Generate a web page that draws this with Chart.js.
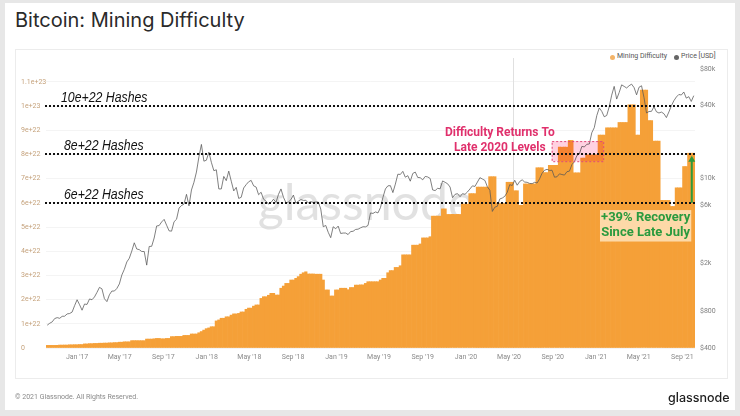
<!DOCTYPE html>
<html><head><meta charset="utf-8">
<script src="https://cdn.jsdelivr.net/npm/chart.js@4.4.0/dist/chart.umd.min.js"></script>
<style>
html,body{margin:0;padding:0;}
body{width:740px;height:416px;background:#e7e7e7;position:relative;overflow:hidden;font-family:Inter,Roboto,sans-serif;}
#card{position:absolute;left:5px;top:3px;width:730px;height:407px;background:#fff;}
#panel{position:absolute;left:15px;top:49px;width:711px;height:328px;border:1px solid #ececec;background:#fff;}
#title{position:absolute;left:15px;top:8px;font-size:20px;color:#2a2a2a;white-space:nowrap;}
.lg{position:absolute;top:52px;font-size:7px;color:#555;white-space:nowrap;font-family:Roboto,sans-serif;}
.dot{position:absolute;top:55px;width:5px;height:5px;border-radius:50%;}
#footer{position:absolute;left:15px;top:393px;font-size:7px;color:#8a8a8a;white-space:nowrap;font-family:Roboto,sans-serif;}
#logo{position:absolute;left:668px;top:390px;font-size:12.5px;font-weight:500;color:#1e1e1e;white-space:nowrap;}
canvas{position:absolute;left:0;top:0;}
</style></head>
<body>
<div id="card"></div>
<div id="panel"></div>
<div id="title">Bitcoin: Mining Difficulty</div>
<div class="dot" style="left:610px;background:#f4b468"></div>
<div class="lg" style="left:617px">Mining Difficulty</div>
<div class="dot" style="left:674px;background:#666"></div>
<div class="lg" style="left:681px">Price [USD]</div>
<canvas id="c" width="740" height="416"></canvas>
<div id="footer">© 2021 Glassnode. All Rights Reserved.</div>
<div id="logo">glassnode</div>
<script>
// ---------- DATA (weekly, starting Sunday 2016-10-09) ----------
const firstWeek = '2016-10-09';
// Mining difficulty in units of 1e22 hashes
const difficulty2016 = [0.109,0.109,0.109,0.109,0.110,0.121,0.121,0.123,0.123,0.133,0.133,0.137];
const difficulty2017 = [0.137,0.144,0.144,0.169,0.169,0.181,0.181,0.189,0.189,0.198,0.198,0.204,0.204,
  0.214,0.214,0.224,0.224,0.240,0.240,0.256,0.256,0.256,0.305,0.305,0.305,0.304,0.304,0.304,0.369,0.369,0.369,
  0.381,0.396,0.396,0.381,0.381,0.396,0.396,0.471,0.471,0.481,0.481,0.481,0.52,0.52,0.52,0.58,0.58,0.58,0.63,0.68,0.74,0.80];
const difficulty2018 = [0.83,0.88,0.88,1.12,1.16,1.23,1.23,1.29,1.29,1.36,1.41,1.41,1.43,1.49,1.49,1.60,1.65,1.65,
  1.73,1.78,1.78,2.05,2.12,2.12,2.18,2.26,2.26,2.19,2.19,2.47,2.56,2.67,2.67,2.81,2.81,2.88,2.95,3.05,3.11,3.15,
  3.06,3.06,3.06,3.05,3.05,3.05,2.81,2.40,2.40,2.15,2.15,2.40];
const difficulty2019 = [2.40,2.47,2.47,2.47,2.41,2.50,2.50,2.60,2.60,2.61,2.61,2.67,2.74,2.74,2.74,2.74,2.74,2.81,
  2.88,2.88,3.11,3.20,3.20,3.33,3.33,3.40,3.85,3.85,3.85,3.85,4.25,4.25,4.25,4.30,4.55,4.55,4.55,4.60,5.45,5.45,
  5.45,5.45,5.75,5.75,5.52,5.52,5.52,5.52,5.52,5.52,5.95,5.95];
const difficulty2020 = [5.95,6.38,6.38,6.38,6.65,6.65,6.65,6.65,6.65,7.08,7.08,7.08,5.97,5.97,5.97,5.97,6.85,6.85,
  6.85,6.50,6.50,5.90,5.90,6.78,6.78,6.78,6.78,6.78,7.45,7.45,7.45,7.25,7.25,7.55,7.55,7.55,7.55,8.30,8.30,8.30,
  8.30,8.58,8.58,7.24,7.24,7.24,7.85,7.85,7.98,7.98,7.98,7.98];
const difficulty2021 = [7.98,8.80,8.80,8.80,9.10,9.10,9.10,9.10,9.10,9.32,9.32,9.32,9.32,10.05,10.05,10.05,8.80,8.80,
  10.66,10.66,10.66,9.40,9.40,8.55,8.55,8.55,6.10,6.10,6.10,6.10,5.85,5.85,6.62,6.62,6.62,7.50,7.50,8.05,8.05,8.05];
// Price (USD)
const price2016 = [617,640,657,700,712,703,730,732,764,770,791,894];
const price2017 = [1000,910,820,922,915,1015,1000,1055,1150,1265,1230,1020,965,1100,1180,1180,1240,1350,1600,1780,
  2050,2200,2520,2950,2620,2590,2500,2500,1930,2750,2760,3230,4060,4090,4380,4600,4120,3700,3680,4400,4610,5700,
  5990,6150,7400,5950,8040,9300,11300,15100,19100,13900,14150];
const price2018 = [16500,13600,11600,11800,8200,8200,10400,9600,11500,9500,7900,8450,6850,7000,8350,8900,9400,9650,
  8700,8500,7350,7700,6750,6500,6150,6350,6750,6350,7400,8200,7000,6300,6400,6700,7300,6250,6500,6700,6600,6600,
  6300,6450,6350,6400,6400,5600,4000,4100,3600,3250,4000,3850];
const price2019 = [4050,3520,3550,3550,3450,3650,3670,3800,3820,3920,4000,3990,4100,5200,5150,5300,5200,5750,6980,
  8200,8700,8730,7650,8990,10850,10800,11450,10250,10550,9500,11000,11300,10200,10150,9750,10400,10300,10000,8050,
  7950,8300,8220,9550,9300,9050,8500,6950,7400,7500,7080,7500,7400];
const price2020 = [7750,8200,8700,8600,9350,10150,9900,9650,8550,8000,5350,5800,5900,6780,6900,7130,7700,8900,8750,
  9670,8800,9450,9750,9350,9300,9100,9070,9300,9180,9930,11050,11700,11900,11650,11700,10250,10330,10930,10780,
  10670,11380,11500,13030,13740,15480,15960,18400,18200,19150,19250,23850,26280];
const price2021 = [33000,38200,35800,32300,33100,39000,48700,57500,45200,51200,59200,57500,55800,58200,60000,56200,
  49000,56600,58200,46400,34700,35700,35800,39100,35500,34700,35300,34250,31800,35400,39800,43800,47000,49300,
  48800,51700,46000,47300,43200,48200];
// Axis ticks
const diffTicks = [0,1,2,3,4,5,6,7,8,9,10,11];
const diffTickLabels = ['0','1e+22','2e+22','3e+22','4e+22','5e+22','6e+22','7e+22','8e+22','9e+22','1e+23','1.1e+23'];
const priceTicks = [400,800,2000,6000,10000,40000,80000];
const priceTickLabels = ['$400','$800','$2k','$6k','$10k','$40k','$80k'];
const xTickDates = ['2017-01-01','2017-05-01','2017-09-01','2018-01-01','2018-05-01','2018-09-01','2019-01-01',
  '2019-05-01','2019-09-01','2020-01-01','2020-05-01','2020-09-01','2021-01-01','2021-05-01','2021-09-01'];
const xTickLabels = ["Jan '17","May '17","Sep '17","Jan '18","May '18","Sep '18","Jan '19","May '19","Sep '19",
  "Jan '20","May '20","Sep '20","Jan '21","May '21","Sep '21"];
// Annotations
const hashLevels = [10, 8, 6];
const hashLabels = ['10e+22 Hashes','8e+22 Hashes','6e+22 Hashes'];
const halvingDate = '2020-05-11';

// ---------- BUILD ----------
const DAY = 86400000;
const dayOf = s => (Date.parse(s) - Date.parse('2016-10-01')) / DAY;
const difficulty = [].concat(difficulty2016, difficulty2017, difficulty2018, difficulty2019, difficulty2020, difficulty2021);
const price = [].concat(price2016, price2017, price2018, price2019, price2020, price2021);
const x0 = dayOf(firstWeek);
const diffPts = difficulty.map((v, i) => ({x: x0 + 7 * i, y: v}));
const pricePts = price.map((v, i) => ({x: x0 + 7 * i, y: v}));
const xMin = x0 - 3.5, xMax = x0 + 7 * (difficulty.length - 1) + 3.5;

function narrowText(ctx, text, x, y, sx) {
  ctx.save(); ctx.translate(x, y); ctx.scale(sx, 1); ctx.fillText(text, 0, 0); ctx.restore();
}

const annotate = {
  id: 'annotate',
  beforeDatasetsDraw(chart) {
    const {ctx, chartArea: a, scales: {x}} = chart;
    ctx.save();
    ctx.font = '50px Lato';
    ctx.fillStyle = 'rgba(200,200,200,0.55)';
    ctx.textAlign = 'center'; ctx.textBaseline = 'alphabetic';
    ctx.fillText('glassnode', 366, 220);
    const hx = Math.round(x.getPixelForValue(dayOf(halvingDate))) + 0.5;
    ctx.strokeStyle = '#e0e0e0'; ctx.lineWidth = 1;
    ctx.beginPath(); ctx.moveTo(hx, a.top - 11); ctx.lineTo(hx, a.bottom); ctx.stroke();
    ctx.restore();
  },
  afterDatasetsDraw(chart) {
    const {ctx, chartArea: a, scales: {x, y}} = chart;
    ctx.save();
    // pink highlight box (multiply)
    const bx1 = x.getPixelForValue(dayOf('2020-08-29')), bx2 = x.getPixelForValue(dayOf('2021-01-21'));
    const by1 = y.getPixelForValue(8.55), by2 = y.getPixelForValue(7.72);
    ctx.globalCompositeOperation = 'multiply';
    ctx.fillStyle = 'rgba(255,190,212,0.7)';
    ctx.fillRect(bx1, by1, bx2 - bx1, by2 - by1);
    ctx.globalCompositeOperation = 'source-over';
    ctx.setLineDash([2, 2]); ctx.lineWidth = 1; ctx.strokeStyle = '#e0487a';
    ctx.strokeRect(bx1 + 0.5, by1 + 0.5, bx2 - bx1, by2 - by1);
    // dashed hash levels
    ctx.setLineDash([2, 2]); ctx.lineWidth = 2; ctx.strokeStyle = '#111';
    hashLevels.forEach(lv => {
      const py = Math.round(y.getPixelForValue(lv));
      ctx.beginPath(); ctx.moveTo(a.left - 1, py); ctx.lineTo(a.right + 2, py); ctx.stroke();
    });
    ctx.setLineDash([]);
    ctx.fillStyle = '#111';
    ctx.font = 'italic 15px "Liberation Sans", Arial, sans-serif';
    ctx.textAlign = 'left'; ctx.textBaseline = 'alphabetic';
    hashLevels.forEach((lv, i) => {
      const py = y.getPixelForValue(lv);
      narrowText(ctx, hashLabels[i], a.left + (i === 0 ? 15 : 18), py - 4, 0.82);
    });
    // pink text
    ctx.fillStyle = '#e0306c';
    ctx.font = 'bold 12px Roboto, sans-serif';
    ctx.textAlign = 'center'; ctx.textBaseline = 'middle';
    const tx = x.getPixelForValue(dayOf('2020-04-05'));
    ctx.fillText('Difficulty Returns To', tx, y.getPixelForValue(8.9));
    ctx.fillText('Late 2020 Levels', tx, y.getPixelForValue(8.27));
    // green box + text
    const gx1 = x.getPixelForValue(dayOf('2021-01-12')), gx2 = x.getPixelForValue(dayOf('2021-09-26'));
    const gy1 = y.getPixelForValue(5.7), gy2 = y.getPixelForValue(4.4);
    ctx.fillStyle = 'rgba(255,236,205,0.75)';
    ctx.fillRect(gx1, gy1, gx2 - gx1, gy2 - gy1);
    ctx.fillStyle = '#2a9a3e';
    ctx.font = 'bold 13px Roboto, sans-serif';
    const gcx = (gx1 + gx2) / 2;
    ctx.fillText('+39% Recovery', gcx, y.getPixelForValue(5.4));
    ctx.fillText('Since Late July', gcx, y.getPixelForValue(4.75));
    // arrow
    const ax = x.getPixelForValue(dayOf('2021-09-26')) + 0.5;
    const ay1 = y.getPixelForValue(6), ay2 = y.getPixelForValue(7.95);
    ctx.strokeStyle = '#2e9a3c'; ctx.lineWidth = 2;
    ctx.beginPath(); ctx.moveTo(ax, ay1); ctx.lineTo(ax, ay2 + 3); ctx.stroke();
    ctx.fillStyle = '#2e9a3c';
    ctx.beginPath(); ctx.moveTo(ax, ay2); ctx.lineTo(ax - 3.5, ay2 + 6); ctx.lineTo(ax + 3.5, ay2 + 6); ctx.closePath(); ctx.fill();
    ctx.restore();
  }
};

new Chart(document.getElementById('c'), {
  type: 'bar',
  data: {
    datasets: [
      {type: 'line', label: 'Price [USD]', data: pricePts, yAxisID: 'y1', borderColor: '#555555', borderWidth: 0.75,
       pointRadius: 0, tension: 0, order: 0},
      {type: 'bar', label: 'Mining Difficulty', data: diffPts, yAxisID: 'y', backgroundColor: '#f5a038', borderWidth: 0,
       barPercentage: 1, categoryPercentage: 1, grouped: false, order: 1}
    ]
  },
  options: {
    responsive: false, animation: false, devicePixelRatio: 1,
    layout: {padding: {left: 21, right: 0, top: 69, bottom: 48}},
    plugins: {legend: {display: false}, tooltip: {enabled: false}},
    scales: {
      x: {
        type: 'linear', min: xMin, max: xMax, offset: false,
        grid: {display: false, drawTicks: false}, border: {display: false},
        afterBuildTicks: s => { s.ticks = xTickDates.map(d => ({value: dayOf(d)})); },
        afterFit: s => { s.height = 20; },
        ticks: {autoSkip: false, maxRotation: 0, padding: 5, color: '#8a8a8a', font: {size: 7, family: 'Roboto'},
          callback: (v, i) => xTickLabels[i]}
      },
      y: {
        position: 'left', min: 0, max: 11.53,
        grid: {color: 'rgba(0,0,0,0.045)', drawTicks: false}, border: {display: false},
        afterBuildTicks: s => { s.ticks = diffTicks.map(v => ({value: v})); },
        afterFit: s => { s.width = 25; },
        ticks: {crossAlign: 'far', padding: 0, color: '#c5a27c', font: {size: 7, family: 'Roboto'},
          callback: (v, i) => diffTickLabels[i]}
      },
      y1: {
        type: 'logarithmic', position: 'right', min: 400, max: 80000,
        grid: {display: false, drawTicks: false}, border: {display: false},
        afterBuildTicks: s => { s.ticks = priceTicks.map(v => ({value: v})); },
        afterFit: s => { s.width = 45; },
        ticks: {padding: 5, color: '#808080', font: {size: 7, family: 'Roboto'},
          callback: (v, i) => priceTickLabels[i]}
      }
    }
  },
  plugins: [annotate]
});
</script>
</body></html>
